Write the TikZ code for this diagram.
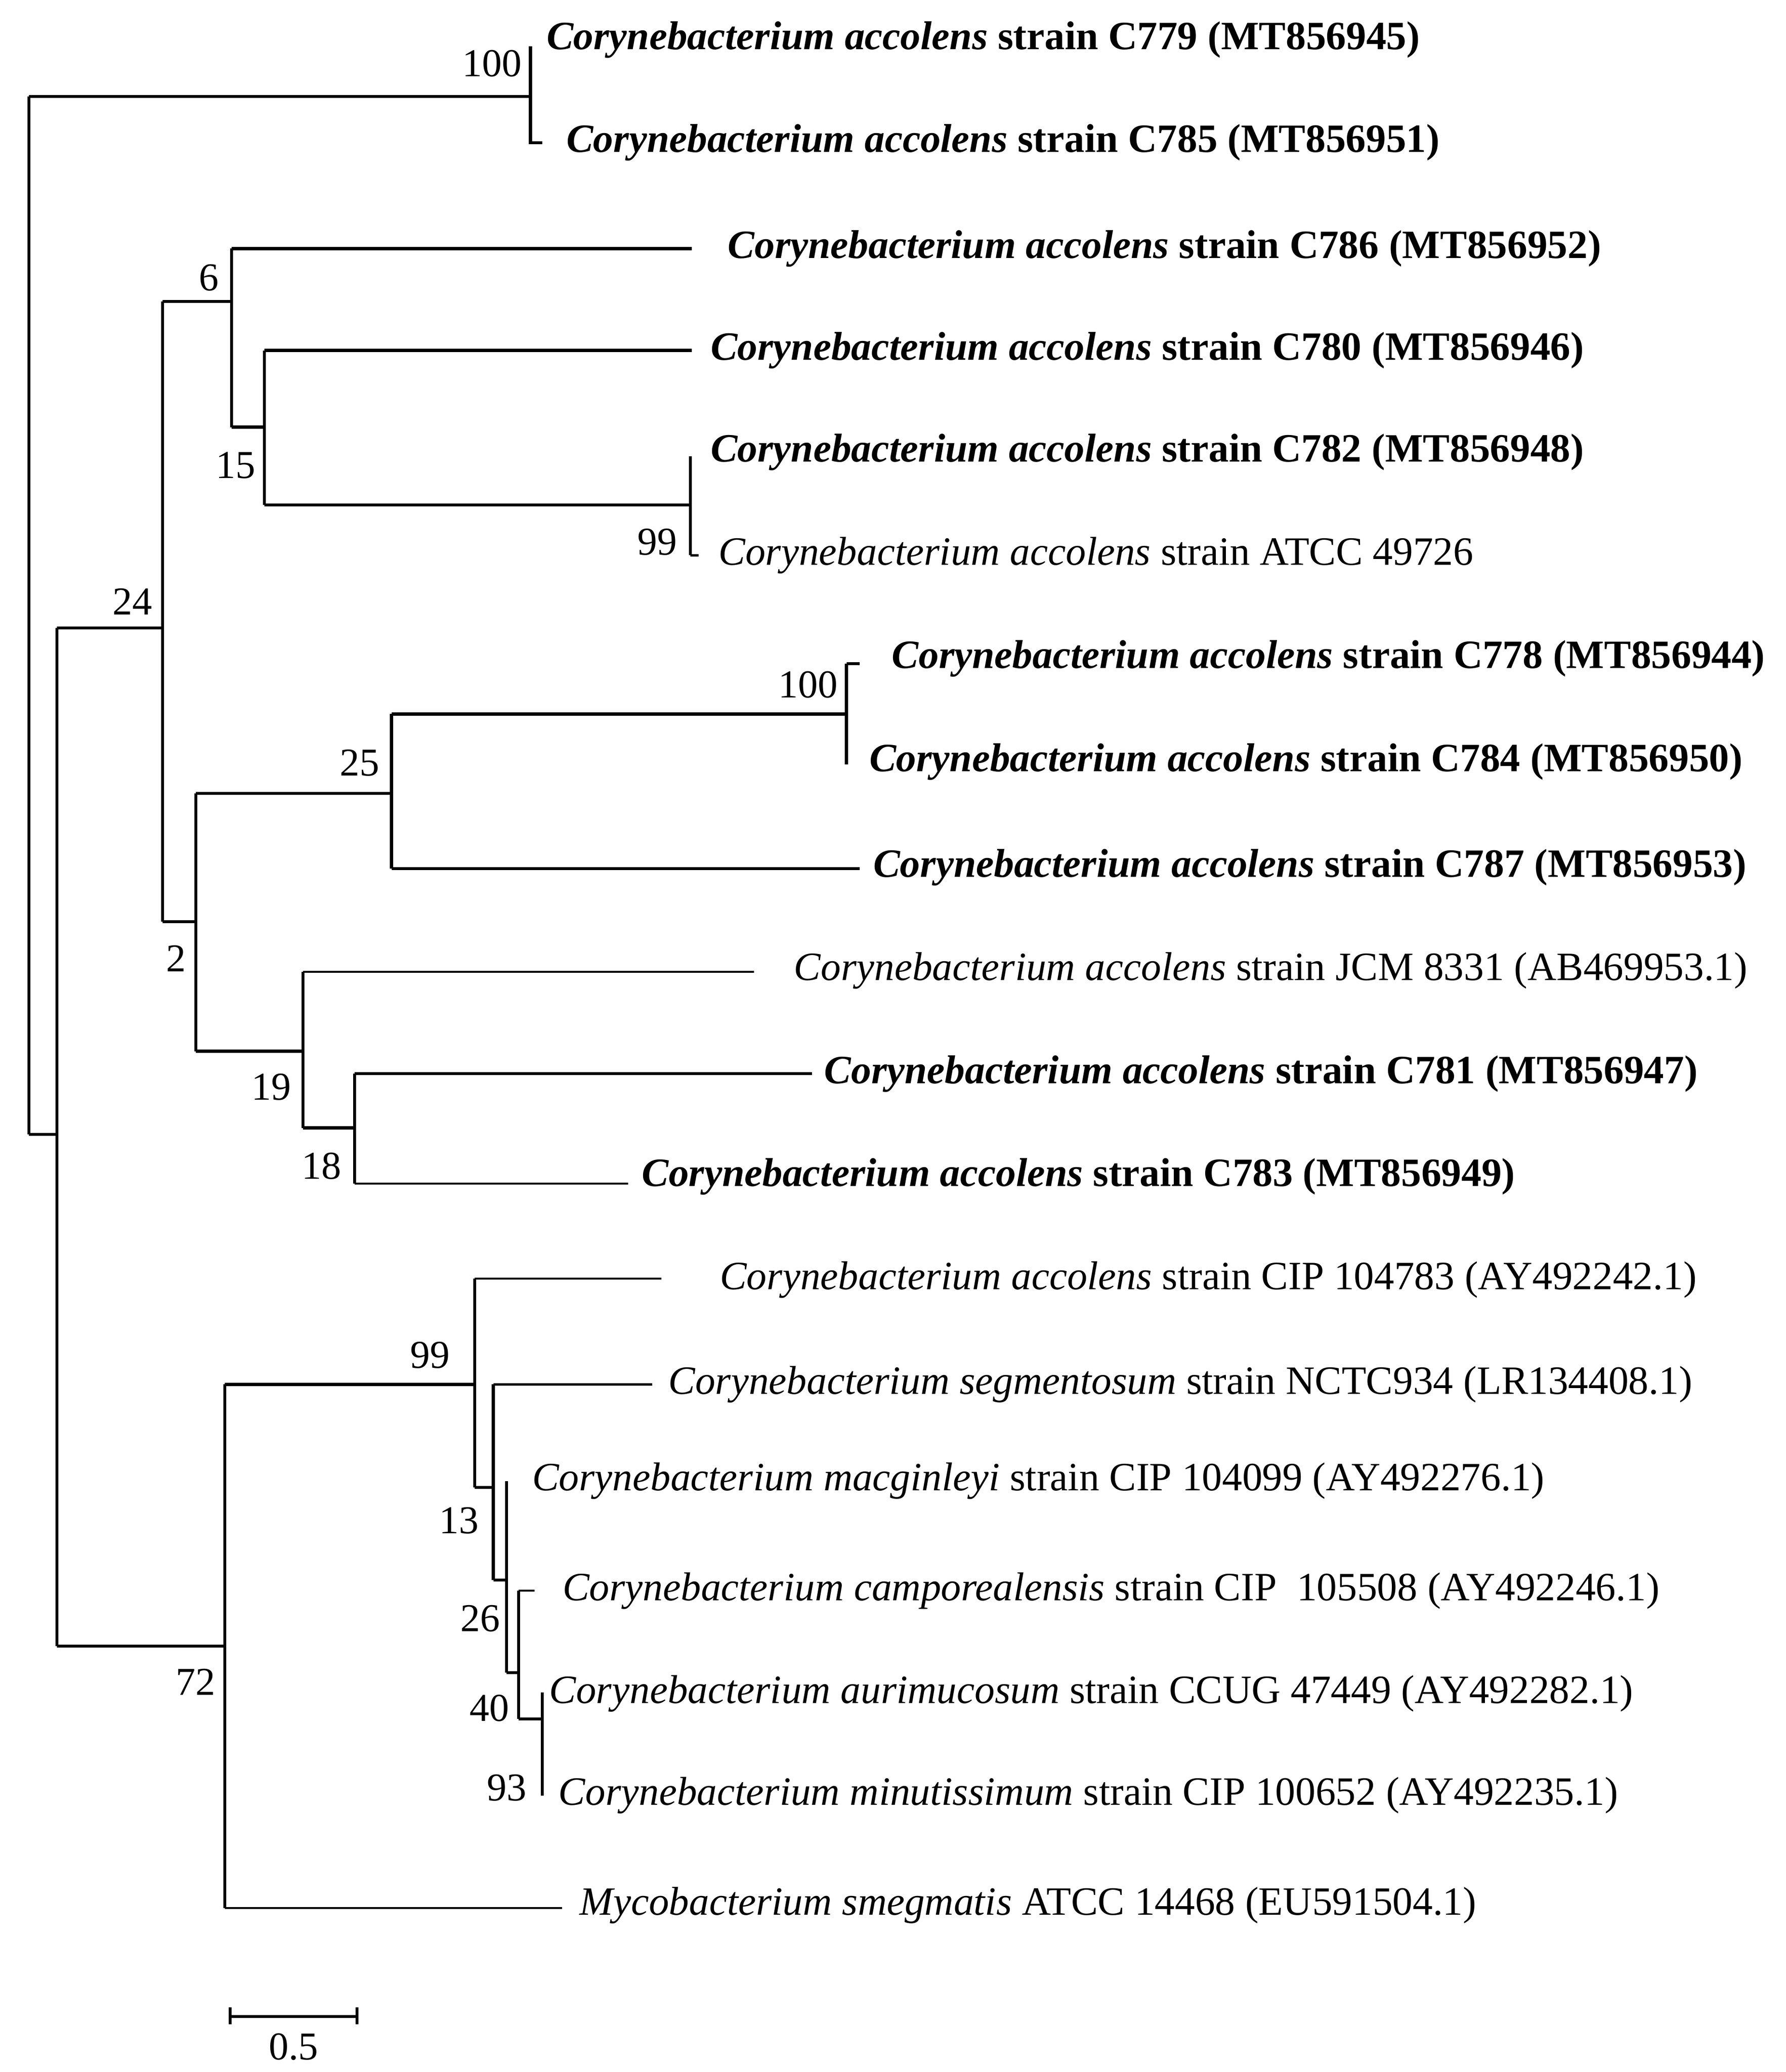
\documentclass[tikz,border=0pt]{standalone}
\usepackage{fontspec}
\setmainfont{Liberation Serif}
\begin{document}
\begin{tikzpicture}[x=0.02cm,y=-0.02cm,
  br/.style={line width=1.3pt},
  thin/.style={line width=0.9pt},
  lab/.style={anchor=west,inner sep=0pt,font=\fontsize{17.3}{20}\selectfont},
  bs/.style={font=\fontsize{17}{20}\selectfont,inner sep=0pt}]
\useasboundingbox (0,0) rectangle (1350,1567);
% leaves
\node[lab] (l1) at (413,30) {\textbf{\textit{Corynebacterium accolens} strain C779 (MT856945)}};
\node[lab] (l2) at (428,108) {\textbf{\textit{Corynebacterium accolens} strain C785 (MT856951)}};
\node[lab] (l3) at (550,188) {\textbf{\textit{Corynebacterium accolens} strain C786 (MT856952)}};
\node[lab] (l4) at (537,265) {\textbf{\textit{Corynebacterium accolens} strain C780 (MT856946)}};
\node[lab] (l5) at (537,342) {\textbf{\textit{Corynebacterium accolens} strain C782 (MT856948)}};
\node[lab] (l6) at (543,420) {\textit{Corynebacterium accolens} strain ATCC 49726};
\node[lab] (l7) at (674,498) {\textbf{\textit{Corynebacterium accolens} strain C778 (MT856944)}};
\node[lab] (l8) at (657,576) {\textbf{\textit{Corynebacterium accolens} strain C784 (MT856950)}};
\node[lab] (l9) at (660,656) {\textbf{\textit{Corynebacterium accolens} strain C787 (MT856953)}};
\node[lab] (l10) at (600,734) {\textit{Corynebacterium accolens} strain JCM 8331 (AB469953.1)};
\node[lab] (l11) at (623,812) {\textbf{\textit{Corynebacterium accolens} strain C781 (MT856947)}};
\node[lab] (l12) at (485,890) {\textbf{\textit{Corynebacterium accolens} strain C783 (MT856949)}};
\node[lab] (l13) at (544,968) {\textit{Corynebacterium accolens} strain CIP 104783 (AY492242.1)};
\node[lab] (l14) at (505,1047) {\textit{Corynebacterium segmentosum} strain NCTC934 (LR134408.1)};
\node[lab] (l15) at (402,1120) {\textit{Corynebacterium macginleyi} strain CIP 104099 (AY492276.1)};
\node[lab] (l16) at (425,1203) {\textit{Corynebacterium camporealensis} strain CIP \ 105508 (AY492246.1)};
\node[lab] (l17) at (415,1281) {\textit{Corynebacterium aurimucosum} strain CCUG 47449 (AY492282.1)};
\node[lab] (l18) at (422,1358) {\textit{Corynebacterium minutissimum} strain CIP 100652 (AY492235.1)};
\node[lab] (l19) at (438,1441) {\textit{Mycobacterium smegmatis} ATCC 14468 (EU591504.1)};
% tree
\draw[br] (22,73) -- (22,858);
\draw[br] (22,73) -- (401,73);
\draw[br] (401,35) -- (401,108) -- (410,108);
\draw[br] (22,858) -- (43,858);
\draw[br] (43,475) -- (43,1245);
\draw[br] (43,475) -- (123,475) (123,228) -- (123,697);
\draw[br] (123,228) -- (175,228) (175,188) -- (175,323);
\draw[br] (175,188) -- (523,188);
\draw[br] (175,323) -- (200,323) (200,265) -- (200,382);
\draw[br] (200,265) -- (523,265);
\draw[br] (200,382) -- (522,382) (522,345) -- (522,420);
\draw[thin] (522,420) -- (528,420);
\draw[br] (123,697) -- (148,697) (148,600) -- (148,795);
\draw[br] (148,600) -- (296,600) (296,540) -- (296,657);
\draw[br] (296,540) -- (640,540) (640,502) -- (640,578);
\draw[br] (640,502) -- (650,502);
\draw[br] (296,657) -- (650,657);
\draw[br] (148,795) -- (229,795) (229,735) -- (229,853);
\draw[thin] (229,735) -- (570,735);
\draw[br] (229,853) -- (268,853) (268,812) -- (268,895);
\draw[br] (268,812) -- (614,812);
\draw[thin] (268,895) -- (475,895);
\draw[br] (43,1245) -- (170,1245) (170,1047) -- (170,1443);
\draw[br] (170,1047) -- (359,1047) (359,967) -- (359,1125);
\draw[thin] (359,967) -- (500,967);
\draw[br] (359,1125) -- (373,1125) (373,1047) -- (373,1195);
\draw[thin] (373,1047) -- (493,1047);
\draw[br] (373,1195) -- (383,1195) (383,1120) -- (383,1265);
\draw[br] (383,1265) -- (392,1265) (392,1203) -- (392,1300);
\draw[thin] (392,1203) -- (404,1203);
\draw[br] (392,1300) -- (410,1300) (410,1280) -- (410,1358);
\draw[thin] (170,1443) -- (425,1443);
% bootstrap
\foreach \x/\y/\t in {372/48/100,100/455/24,158/210/6,178/352/15,497/410/99,133/725/2,272/577/25,611/518/100,205/822/19,243/882/18,148/1272/72,325/1025/99,347/1150/13,363/1224/26,370/1292/40,383/1352/93}
  \node[bs] at (\x,\y) {\t};
% scale bar
\draw[br] (174,1518) -- (174,1531) (174,1525) -- (270,1525) (270,1518) -- (270,1531);
\node[bs] at (222,1548) {0.5};
\end{tikzpicture}
\end{document}
